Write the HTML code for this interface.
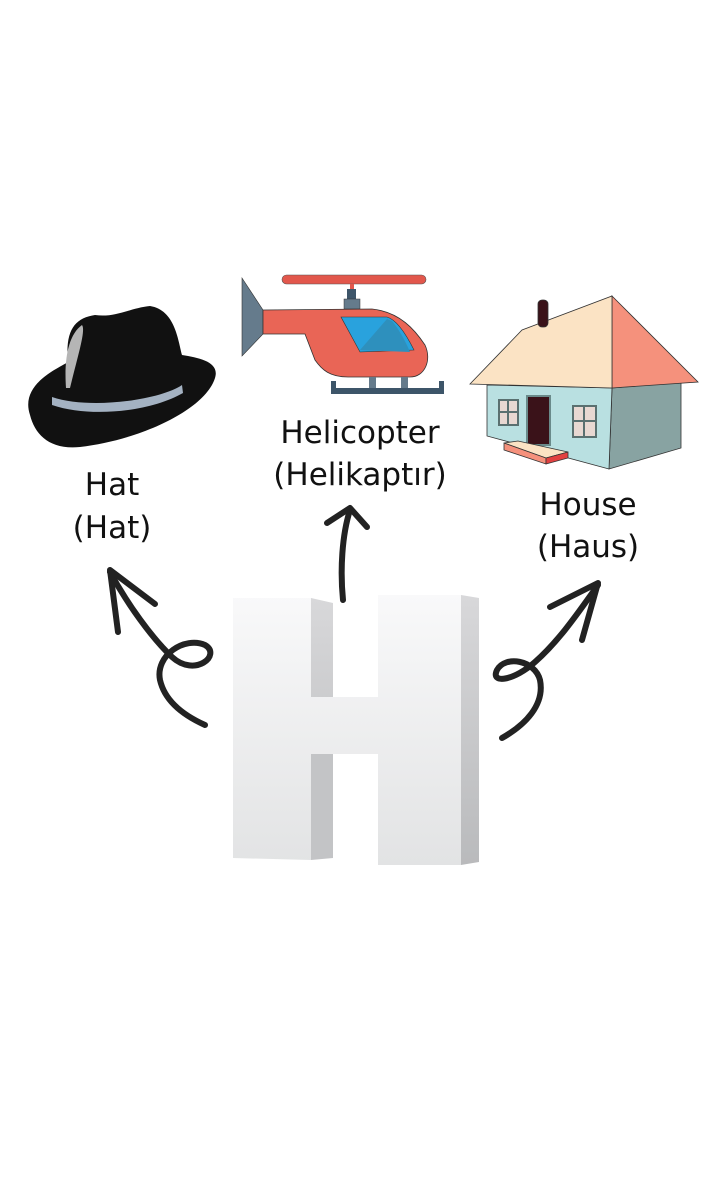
<!DOCTYPE html>
<html><head><meta charset="utf-8"><style>
html,body{margin:0;padding:0;background:#fff;}
svg{display:block}
text{font-family:"Comic Sans MS","DejaVu Sans","Liberation Sans",sans-serif;font-size:31px;fill:#111;text-anchor:middle}
</style></head><body>
<svg width="709" height="1181" viewBox="0 0 709 1181">
<defs>
<linearGradient id="gf" x1="0" y1="0" x2="0" y2="1"><stop offset="0" stop-color="#f9f9fa"/><stop offset="1" stop-color="#e2e3e4"/></linearGradient>
<linearGradient id="gs" x1="0" y1="0" x2="0" y2="1"><stop offset="0" stop-color="#d8d8da"/><stop offset="1" stop-color="#b9babc"/></linearGradient>
</defs>
<!-- Hat -->
<g>
<path d="M30,415 C20,385 55,370 68,362 C65,330 75,318 95,315 C115,318 130,308 150,306 C175,310 178,340 182,355 C200,358 220,362 215,378 C205,410 140,440 80,447 C50,450 35,435 30,415 Z" fill="#111"/>
<path d="M52,397 C90,410 160,400 182,385 L183,393 C150,412 90,418 52,405 Z" fill="#a4b2c2"/>
<path d="M66,388 C64,360 68,335 82,325 C86,330 78,355 70,388 Z" fill="#b5b5b5"/>
</g>
<text x="112" y="495">Hat</text>
<text x="112" y="538">(Hat)</text>
<!-- Helicopter -->
<g>
<rect x="282" y="275" width="144" height="9" rx="4.5" fill="#e2574c" stroke="#555" stroke-width="0.6"/>
<rect x="350" y="284" width="4" height="6" fill="#e2574c"/>
<rect x="347" y="289" width="9" height="11" fill="#3d5569"/>
<rect x="344" y="299" width="16" height="10" fill="#657b8c" stroke="#333" stroke-width="0.5"/>
<path d="M242,278 L263,310 L263,334 L242,356 Z" fill="#657b8c" stroke="#333" stroke-width="0.6"/>
<path d="M263,310 L372,309 C400,312 415,330 425,345 C432,360 425,377 410,377 L348,377 C330,377 322,370 315,360 L305,334 L263,334 Z" fill="#e96556" stroke="#333" stroke-width="0.8"/>
<path d="M341,317 L387,317 C398,320 408,338 414,350 L360,352 Z" fill="#29a2dd" stroke="#333" stroke-width="0.6"/>
<path d="M387,319 L360,350 L410,352 C405,340 398,328 392,321 Z" fill="#2e90bd"/>
<rect x="369" y="377" width="7" height="13" fill="#657b8c"/>
<rect x="401" y="377" width="7" height="13" fill="#657b8c"/>
<path d="M331,381 L336,381 L336,388 L439,388 L439,381 L444,381 L444,394 L331,394 Z" fill="#3d5569"/>
</g>
<text x="360" y="443">Helicopter</text>
<text x="360" y="485">(Helikaptır)</text>
<!-- House -->
<g stroke="#333" stroke-width="0.8">
<path d="M612,388 L681,382 L681,448 L609,469 Z" fill="#88a3a2"/>
<path d="M487,385 L612,388 L609,469 L487,436 Z" fill="#b9e0e1"/>
<path d="M612,296 L698,382 L612,388 Z" fill="#f5917c"/>
<path d="M470,384 L522,330 L612,296 L612,388 Z" fill="#fbe3c4"/>
<rect x="538" y="300" width="10" height="27" rx="4" fill="#3a1219"/>
<rect x="527" y="396" width="23" height="49" fill="#3a1219" stroke="#6a8a8a" stroke-width="2"/>
<rect x="499" y="400" width="19" height="25" fill="#e8d8d2" stroke="#5a7070" stroke-width="2"/>
<path d="M508,400 V425 M499,412 H518" stroke="#5a7070" stroke-width="2"/>
<rect x="573" y="406" width="23" height="31" fill="#e8d8d2" stroke="#5a7070" stroke-width="2"/>
<path d="M584,406 V437 M573,421 H596" stroke="#5a7070" stroke-width="2"/>
<path d="M504,443 L518,441 L568,452 L546,458 Z" fill="#fbe3c4"/>
<path d="M504,443 L546,458 L546,464 L504,450 Z" fill="#f5917c"/>
<path d="M546,458 L568,452 L568,458 L546,464 Z" fill="#e24040"/>
</g>
<text x="588" y="515">House</text>
<text x="588" y="557">(Haus)</text>
<!-- Arrows -->
<g fill="none" stroke="#222" stroke-width="6" stroke-linecap="round" stroke-linejoin="round">
<g>
<path d="M110,572 C128,605 152,638 172,657 C195,678 222,655 205,645 C185,636 155,655 160,680 C165,702 185,716 205,725"/>
<path d="M118,632 L110,570 L155,604"/>
</g>
<g>
<path d="M343,600 C340,570 342,535 350,510"/>
<path d="M327,523 L350,508 L367,527"/>
</g>
<g>
<path d="M598,585 C580,610 560,640 535,662 C515,680 490,685 497,670 C505,655 535,660 540,680 C545,705 525,725 502,738"/>
<path d="M550,607 L598,583 L582,640"/>
</g>
</g>
<!-- Letter H -->
<g>
<path d="M311,598 L333,603 L333,858 L311,858 Z" fill="url(#gs)"/>
<path d="M461,595 L479,598 L479,862 L461,865 Z" fill="url(#gs)"/>
<path d="M233,598 L311,598 L311,697 L378,697 L378,595 L461,595 L461,865 L378,865 L378,754 L311,754 L311,860 L233,858 Z" fill="url(#gf)"/>
<path d="M311,754 L333,754 L333,858 L311,860 Z" fill="#c3c4c6"/>
</g>
</svg>
</body></html>
